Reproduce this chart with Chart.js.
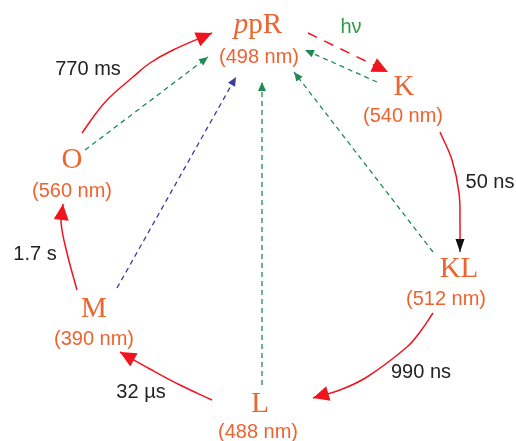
<!DOCTYPE html>
<html>
<head>
<meta charset="utf-8">
<script src="https://cdn.jsdelivr.net/npm/chart.js@4/dist/chart.umd.min.js"></script>
<style>
  html, body { margin: 0; padding: 0; background: #fff; }
  #cycle { display: block; }
</style>
</head>
<body>
<canvas id="cycle" width="516" height="441"></canvas>
<script>
"use strict";

// Photocycle states (diagram coordinates, y grows downward)
const stateNames = ["pR", "K", "KL", "L", "M", "O"];
const stateWavelengths = [498, 540, 512, 488, 390, 560];
const stateX = [258, 404, 459, 260, 94, 72];
const stateY = [33, 95, 277, 412, 317, 168];
const wavelengthX = [259, 403, 446, 258, 94, 72];
const wavelengthY = [63, 122, 305, 438, 345, 197];

// Forward transitions and their lifetimes (points read along each arrow)
const lifetimes = ["h\u03bd", "50 ns", "990 ns", "32 \u00b5s", "1.7 s", "770 ms"];
const lifetimeX = [351, 490, 421, 141, 35, 88];
const lifetimeY = [33, 188, 378, 398, 260, 75];
const forwardPaths = [
  [[308, 33], [388, 72]],
  [[440, 132], [452, 160], [459, 193], [460, 225], [460, 252]],
  [[433, 313], [420, 332], [407, 347], [367, 377], [340, 390], [313, 398]],
  [[212, 400], [180, 385], [150, 369], [120, 352]],
  [[77, 290], [67, 253], [61, 222], [63, 204]],
  [[82, 133], [97, 112], [110, 97], [133, 77], [150, 63], [173, 50], [212, 33]]
];

// Back reactions to the ground state
const backPaths = [
  [[377, 82], [305, 50]],
  [[433, 252], [294, 72]],
  [[262, 385], [262, 82]],
  [[117, 288], [236, 77]],
  [[85, 150], [208, 57]]
];

const ORANGE = "#ec6430";
const RED = "#f0141e";
const GREEN = "#1e8a52";
const BLUE = "#3a3aa0";

const toPoints = (path) => path.map((p) => ({ x: p[0], y: p[1] }));

const datasets = [];
forwardPaths.forEach((path, i) => {
  datasets.push({
    data: toPoints(path),
    borderColor: RED,
    borderWidth: 1.5,
    borderDash: i === 0 ? [10, 8] : [],
    tension: path.length > 2 ? 0.4 : 0,
    pointRadius: 0,
    fill: false,
    head: i === 1 ? { color: "#111", len: 13, half: 4.5 } : { color: RED, len: 16, half: 7.5 }
  });
});
backPaths.forEach((path, i) => {
  datasets.push({
    data: toPoints(path),
    borderColor: i === 3 ? BLUE : GREEN,
    borderWidth: 1.3,
    borderDash: [5, 4],
    tension: 0,
    pointRadius: 0,
    fill: false,
    head: { color: i === 3 ? BLUE : GREEN, len: 9, half: 4 }
  });
});

const drawHead = (ctx, tip, from, head) => {
  const ang = Math.atan2(tip.y - from.y, tip.x - from.x);
  const bx = tip.x - head.len * Math.cos(ang);
  const by = tip.y - head.len * Math.sin(ang);
  ctx.beginPath();
  ctx.moveTo(tip.x, tip.y);
  ctx.lineTo(bx + head.half * Math.sin(ang), by - head.half * Math.cos(ang));
  ctx.lineTo(bx - head.half * Math.sin(ang), by + head.half * Math.cos(ang));
  ctx.closePath();
  ctx.fillStyle = head.color;
  ctx.fill();
};

const cyclePlugin = {
  id: "cycle",
  afterDatasetsDraw(chart) {
    const ctx = chart.ctx;
    const sx = chart.scales.x;
    const sy = chart.scales.y;
    ctx.save();

    // arrowheads
    chart.data.datasets.forEach((ds, i) => {
      const pts = chart.getDatasetMeta(i).data;
      const tip = pts[pts.length - 1];
      let from = pts[pts.length - 2];
      if (tip.cp1x !== undefined && Math.hypot(tip.cp1x - tip.x, tip.cp1y - tip.y) > 1) {
        from = { x: tip.cp1x, y: tip.cp1y };
      }
      drawHead(ctx, tip, from, ds.head);
    });

    // state names
    ctx.textBaseline = "alphabetic";
    stateNames.forEach((name, i) => {
      const x = sx.getPixelForValue(stateX[i]);
      const y = sy.getPixelForValue(stateY[i]);
      ctx.fillStyle = ORANGE;
      if (i === 0) {
        ctx.font = "italic 29px 'Liberation Serif', serif";
        const wp = ctx.measureText("p").width;
        ctx.font = "29px 'Liberation Serif', serif";
        const wr = ctx.measureText("pR").width;
        const left = x - (wp + wr) / 2;
        ctx.textAlign = "left";
        ctx.font = "italic 29px 'Liberation Serif', serif";
        ctx.fillText("p", left, y);
        ctx.font = "29px 'Liberation Serif', serif";
        ctx.fillText("pR", left + wp, y);
      } else {
        ctx.textAlign = "center";
        ctx.font = "29px 'Liberation Serif', serif";
        ctx.fillText(name, x, y);
      }
      ctx.textAlign = "center";
      ctx.font = "20px 'Liberation Sans', Arial, sans-serif";
      ctx.fillText("(" + stateWavelengths[i] + " nm)",
        sx.getPixelForValue(wavelengthX[i]), sy.getPixelForValue(wavelengthY[i]));
    });

    // lifetimes
    ctx.font = "20px 'Liberation Sans', Arial, sans-serif";
    lifetimes.forEach((t, i) => {
      ctx.fillStyle = i === 0 ? "#2e9a48" : "#222";
      ctx.fillText(t, sx.getPixelForValue(lifetimeX[i]), sy.getPixelForValue(lifetimeY[i]));
    });
    ctx.restore();
  }
};

new Chart(document.getElementById("cycle"), {
  type: "line",
  data: { datasets: datasets },
  plugins: [cyclePlugin],
  options: {
    responsive: false,
    animation: false,
    layout: { padding: 0 },
    plugins: { legend: { display: false }, tooltip: { enabled: false } },
    scales: {
      x: { type: "linear", min: 0, max: 516, display: false },
      y: { type: "linear", min: 0, max: 441, reverse: true, display: false }
    }
  }
});
</script>
</body>
</html>
